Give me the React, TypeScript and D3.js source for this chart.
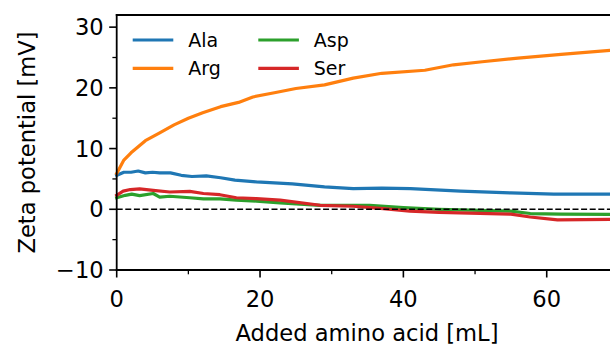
import { useRef, useEffect } from 'react'
import * as d3 from 'd3'

const W = 610
const H = 345

// Added amino acid [mL] vs zeta potential [mV]
const alaX = [0, 1, 2, 3, 4, 5, 6, 7.5, 9, 10.5, 12.5, 14.5, 16.5, 19.5, 24.5, 29, 33, 37, 41, 48, 55, 61, 69]
const alaY = [5.6, 6.1, 6.1, 6.3, 6.0, 6.1, 6.0, 6.0, 5.6, 5.4, 5.5, 5.2, 4.8, 4.5, 4.2, 3.7, 3.4, 3.5, 3.4, 3.0, 2.7, 2.5, 2.5]

const argX = [0, 1, 2, 4, 6, 8, 10, 12, 14.5, 17, 19, 22, 25, 29, 33, 37, 43, 47, 51, 56, 62, 69]
const argY = [5.9, 8.1, 9.3, 11.3, 12.6, 13.9, 15.0, 15.9, 16.9, 17.6, 18.5, 19.2, 19.9, 20.5, 21.6, 22.4, 22.9, 23.8, 24.3, 24.9, 25.5, 26.2]

const aspX = [0, 1.2, 2.1, 3.2, 5.1, 6, 7.4, 10.2, 12.1, 14.4, 16.7, 19.5, 22.8, 28.4, 35.3, 40, 45, 55, 57.7, 62, 69]
const aspY = [1.9, 2.3, 2.5, 2.25, 2.6, 2.0, 2.15, 1.9, 1.7, 1.7, 1.5, 1.35, 1.05, 0.66, 0.65, 0.28, 0.0, -0.3, -0.7, -0.8, -0.85]

const serX = [0, 0.9, 1.9, 3.2, 5.1, 7.4, 10.2, 12.1, 14.4, 16.7, 19.5, 22.8, 28.4, 33, 37.2, 40.9, 45, 55, 57.7, 61.5, 69]
const serY = [2.3, 3.0, 3.25, 3.35, 3.1, 2.85, 2.95, 2.6, 2.4, 1.9, 1.75, 1.5, 0.66, 0.5, 0.1, -0.3, -0.5, -0.8, -1.27, -1.75, -1.65]

const seriesNames = ['Ala', 'Arg', 'Asp', 'Ser']
const seriesX = [alaX, argX, aspX, serX]
const seriesY = [alaY, argY, aspY, serY]
const COLORS = ['#1f77b4', '#ff7f0e', '#2ca02c', '#d62728']

const xTicks = [0, 20, 40, 60]
const xMinor = [10, 30, 50, 70]
const yTicks = [-10, 0, 10, 20, 30]
const yMinor = [-5, 5, 15, 25]

export default function App() {
  const svgRef = useRef<SVGSVGElement>(null)

  useEffect(() => {
    if (!svgRef.current) return
    const svg = d3.select(svgRef.current)
    svg.selectAll('*').remove()

    const left = 116.7, top = 15, bottom = 270
    const x = d3.scaleLinear().domain([0, 70]).range([left, left + 70 * 7.167])
    const y = d3.scaleLinear().domain([-10, 32]).range([bottom, top])
    const font = 'DejaVu Sans, sans-serif'
    const fs = '22.6px'

    // series
    const line = d3.line<[number, number]>().x(d => x(d[0])).y(d => y(d[1]))
    seriesNames.forEach((name, i) => {
      const pts = seriesX[i].map((v, j) => [v, seriesY[i][j]] as [number, number])
      svg.append('path')
        .attr('d', line(pts))
        .attr('fill', 'none')
        .attr('stroke', COLORS[i])
        .attr('stroke-width', 3.2)
        .attr('stroke-linejoin', 'round')
        .attr('stroke-linecap', 'square')
    })

    // zero reference line
    svg.append('line')
      .attr('x1', x(0)).attr('x2', x(70))
      .attr('y1', y(0)).attr('y2', y(0))
      .attr('stroke', 'black').attr('stroke-width', 1.6)
      .attr('stroke-dasharray', '6,2.6')

    // spines
    const spine = (x1: number, x2: number, y1: number, y2: number) =>
      svg.append('line').attr('x1', x1).attr('x2', x2).attr('y1', y1).attr('y2', y2)
        .attr('stroke', 'black').attr('stroke-width', 1.8).attr('stroke-linecap', 'square')
    spine(left, left, top, bottom)
    spine(left, x(70), bottom, bottom)
    spine(left, x(70), top, top)

    // x ticks
    xTicks.forEach(t => {
      svg.append('line').attr('x1', x(t)).attr('x2', x(t)).attr('y1', bottom).attr('y2', bottom + 7.5)
        .attr('stroke', 'black').attr('stroke-width', 1.6)
      svg.append('text').attr('x', x(t)).attr('y', bottom + 37)
        .attr('text-anchor', 'middle').style('font-family', font).style('font-size', fs)
        .text(d3.format('d')(t))
    })
    xMinor.forEach(t => {
      svg.append('line').attr('x1', x(t)).attr('x2', x(t)).attr('y1', bottom).attr('y2', bottom + 4.3)
        .attr('stroke', 'black').attr('stroke-width', 1.3)
    })

    // y ticks
    yTicks.forEach(t => {
      svg.append('line').attr('x1', left - 7.5).attr('x2', left).attr('y1', y(t)).attr('y2', y(t))
        .attr('stroke', 'black').attr('stroke-width', 1.6)
      svg.append('text').attr('x', left - 13).attr('y', y(t) + 8)
        .attr('text-anchor', 'end').style('font-family', font).style('font-size', fs)
        .text(t < 0 ? `\u2212${Math.abs(t)}` : String(t))
    })
    yMinor.forEach(t => {
      svg.append('line').attr('x1', left - 4.3).attr('x2', left).attr('y1', y(t)).attr('y2', y(t))
        .attr('stroke', 'black').attr('stroke-width', 1.3)
    })

    // axis labels
    svg.append('text').attr('x', 367).attr('y', 341)
      .attr('text-anchor', 'middle').style('font-family', font).style('font-size', fs)
      .text('Added amino acid [mL]')
    svg.append('text')
      .attr('transform', `translate(35,${(top + bottom) / 2}) rotate(-90)`)
      .attr('text-anchor', 'middle').style('font-family', font).style('font-size', fs)
      .text('Zeta potential [mV]')

    // legend (2 columns)
    const legCols = [132.7, 258.3]
    const legRows = [40, 68.3]
    seriesNames.forEach((name, i) => {
      const lx = legCols[Math.floor(i / 2)]
      const ly = legRows[i % 2]
      svg.append('line').attr('x1', lx).attr('x2', lx + 40.6).attr('y1', ly).attr('y2', ly)
        .attr('stroke', COLORS[i]).attr('stroke-width', 3.2)
      svg.append('text').attr('x', lx + 55.5).attr('y', ly + 7)
        .style('font-family', font).style('font-size', '19px')
        .text(name)
    })
  }, [])

  return (
    <svg ref={svgRef} width={W} height={H}
      style={{ position: 'absolute', left: 0, top: 0, background: 'white' }} />
  )
}
